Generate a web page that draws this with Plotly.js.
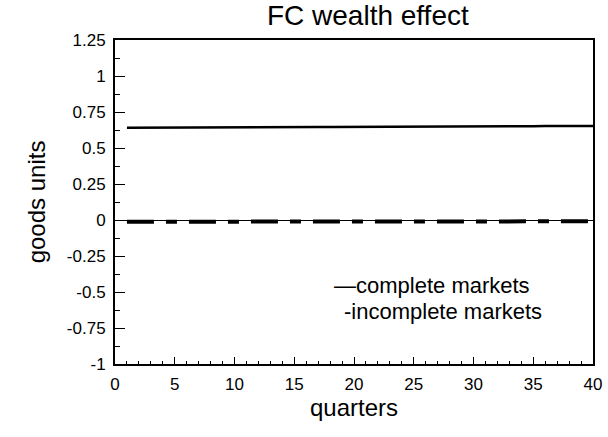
<!DOCTYPE html>
<html><head><meta charset="utf-8">
<script src="https://cdn.plot.ly/plotly-3.0.1.min.js"></script>
<style>body{margin:0;background:#fff}#c{width:608px;height:437px}</style>
</head><body><div id="c"></div>
<script>
var quarters = [1,2,3,4,5,6,7,8,9,10,11,12,13,14,15,16,17,18,19,20,21,22,23,24,25,26,27,28,29,30,31,32,33,34,35,36,37,38,39,40];
var complete = [0.640,0.640,0.641,0.641,0.641,0.642,0.642,0.642,0.643,0.643,0.643,0.644,0.644,0.644,0.645,0.645,0.645,0.646,0.646,0.646,0.647,0.647,0.647,0.648,0.648,0.648,0.649,0.649,0.649,0.650,0.650,0.650,0.651,0.651,0.651,0.652,0.652,0.652,0.653,0.653];
var incomplete = [-0.012,-0.012,-0.012,-0.012,-0.012,-0.012,-0.012,-0.012,-0.012,-0.012,-0.011,-0.011,-0.011,-0.011,-0.011,-0.011,-0.011,-0.011,-0.011,-0.011,-0.010,-0.010,-0.010,-0.010,-0.010,-0.010,-0.010,-0.010,-0.010,-0.010,-0.009,-0.009,-0.009,-0.009,-0.009,-0.009,-0.009,-0.009,-0.009,-0.009];
var yTicks = [-1,-0.75,-0.5,-0.25,0,0.25,0.5,0.75,1,1.25];
var yTickText = ['-1','-0.75','-0.5','-0.25','0','0.25','0.5','0.75','1','1.25'];
var xTicks = [0,5,10,15,20,25,30,35,40];
var legendLabels = ['\u2014complete markets','-incomplete markets'];

var traces = [
  {x: quarters, y: complete, mode:'lines', name:'complete markets', line:{color:'#000', width:2.5}},
  {x: quarters, y: incomplete, mode:'lines', name:'incomplete markets', line:{color:'#000', width:4, dash:'27px,12px,11px,12px'}}
];
var ff = 'Liberation Sans, Arial, sans-serif';
var layout = {
  width:608, height:437,
  margin:{l:115, r:15, t:40, b:73},
  paper_bgcolor:'#fff', plot_bgcolor:'#fff',
  showlegend:false,
  font:{family:ff, color:'#000'},
  title:{text:'FC wealth effect', font:{family:ff, size:28, color:'#000'}, x:0.605, xanchor:'center', y:0.966, yanchor:'middle'},
  xaxis:{range:[0,40], tickvals:xTicks, ticks:'inside', ticklen:7, tickcolor:'#000', ticklabelstandoff:4,
    minor:{dtick:1, ticks:'inside', ticklen:3, tickcolor:'#000'},
    showgrid:false, zeroline:false, showline:true, linecolor:'#000', linewidth:2, mirror:true,
    tickfont:{family:ff, size:17, color:'#000'},
    title:{text:'quarters', font:{family:ff, size:24, color:'#000'}, standoff:6}},
  yaxis:{range:[-1,1.25], tickvals:yTicks, ticktext:yTickText, ticks:'inside', ticklen:10, tickcolor:'#000', ticklabelstandoff:4,
    minor:{dtick:0.125, ticks:'inside', ticklen:5, tickcolor:'#000'},
    showgrid:false, zeroline:true, zerolinecolor:'#000', zerolinewidth:1, showline:true, linecolor:'#000', linewidth:2, mirror:true,
    tickfont:{family:ff, size:17, color:'#000'},
    title:{text:'goods units', font:{family:ff, size:24, color:'#000'}, standoff:14}},
  annotations:[
    {xref:'x', yref:'y', x:18.2, y:-0.455, xanchor:'left', yanchor:'middle', showarrow:false, text:legendLabels[0], font:{family:ff, size:22, color:'#000'}},
    {xref:'x', yref:'y', x:19.0, y:-0.635, xanchor:'left', yanchor:'middle', showarrow:false, text:legendLabels[1], font:{family:ff, size:22, color:'#000'}}
  ]
};
Plotly.newPlot('c', traces, layout, {staticPlot:true, displayModeBar:false});
</script></body></html>
